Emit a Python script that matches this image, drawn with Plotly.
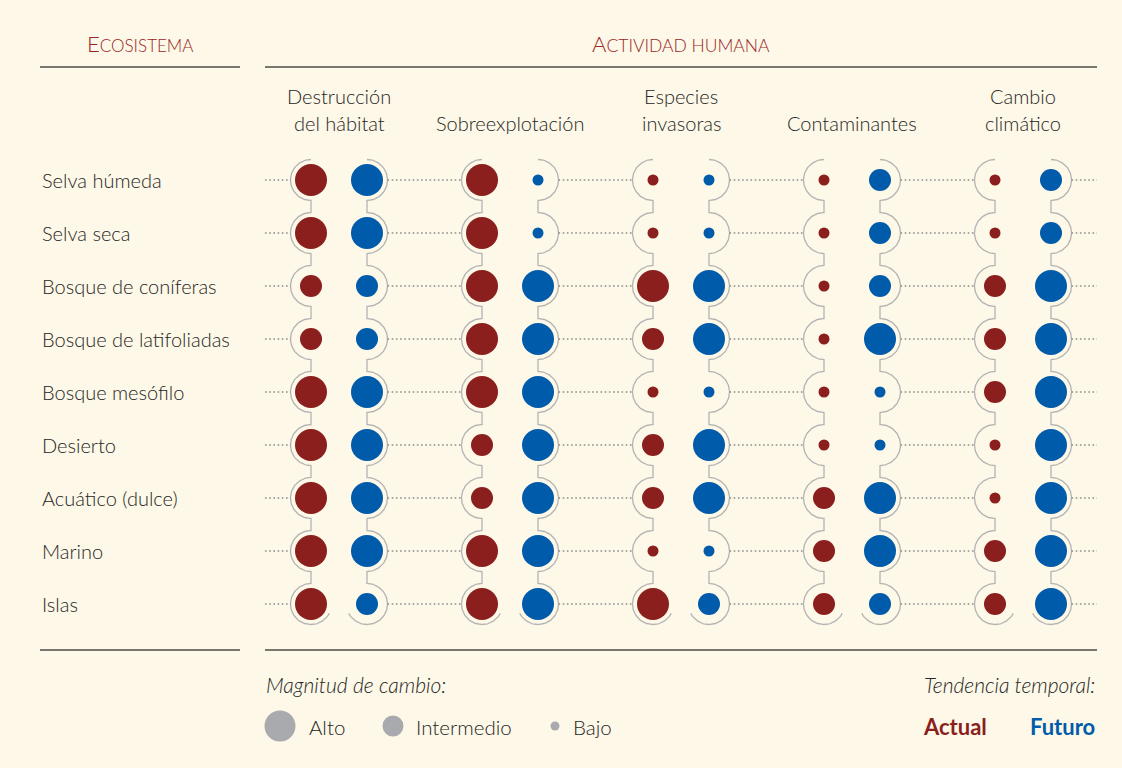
import math
import plotly.graph_objects as go

# ---------------- data ----------------
ECOSYSTEMS = ["Selva húmeda", "Selva seca", "Bosque de coníferas", "Bosque de latifoliadas",
              "Bosque mesófilo", "Desierto", "Acuático (dulce)", "Marino", "Islas"]
ACTIVITIES = ["Destrucción\ndel hábitat", "Sobreexplotación", "Especies\ninvasoras",
              "Contaminantes", "Cambio\nclimático"]
# magnitude: 3 = Alto, 2 = Intermedio, 1 = Bajo ; one row per ecosystem, one value per activity
ACTUAL = [
    [3, 3, 1, 1, 1],
    [3, 3, 1, 1, 1],
    [2, 3, 3, 1, 2],
    [2, 3, 2, 1, 2],
    [3, 3, 1, 1, 2],
    [3, 2, 2, 1, 1],
    [3, 2, 2, 2, 1],
    [3, 3, 1, 2, 2],
    [3, 3, 3, 2, 2],
]
FUTURO = [
    [3, 1, 1, 2, 2],
    [3, 1, 1, 2, 2],
    [2, 3, 3, 2, 3],
    [2, 3, 3, 3, 3],
    [3, 3, 1, 1, 3],
    [3, 3, 3, 1, 3],
    [3, 3, 3, 3, 3],
    [3, 3, 1, 3, 3],
    [2, 3, 2, 2, 3],
]
MAG_LABELS = ["Alto", "Intermedio", "Bajo"]
MAG_LEVELS = [3, 2, 1]

# ---------------- style ----------------
W, H = 1122, 768
BG = "#FDF8E7"
RED = "#8A1F1D"
BLUE = "#005BAA"
HEAD_RED = "#9A2526"
TXT = "#262626"
ARC = "#B3B3B3"
DOT = "#8C8C8C"
GREY = "#A9AAAD"
FONT = "Lato"
FW = 300
SIZE_PX = {3: 32, 2: 22, 1: 11}
LEG_SIZE_PX = {3: 31, 2: 21, 1: 9}

GROUP_PX0, GROUP_STEP = 339, 171   # pixel layout of the axes
ROW_PX0, ROW_STEP = 180, 53
PAIR_OFF = 28 / GROUP_STEP          # data units
R_PX = 20.5
RX, RY = R_PX / GROUP_STEP, R_PX / ROW_STEP
LINE_L, LINE_R = 265, 1097


def xd(px):
    return (px - GROUP_PX0) / GROUP_STEP


def py(p):
    return 1 - p / H


def pxr(p):
    return p / W


def font(size, color=TXT, weight=FW):
    return dict(size=size, color=color, family=FONT, weight=weight)


fig = go.Figure()
nrow, ncol = len(ECOSYSTEMS), len(ACTIVITIES)

# connector arcs (left of the "Actual" bubbles, right of the "Futuro" bubbles)
for i in range(ncol):
    for s in (-1, 1):
        cx = i + s * PAIR_OFF
        xs, ys = [], []
        for j in range(nrow):
            end = 335 if j == nrow - 1 else 270
            for t in range(90, end + 1, 3):
                th = math.radians(t)
                xs.append(cx + (RX * math.cos(th) if s == -1 else -RX * math.cos(th)))
                ys.append(j - RY * math.sin(th))
        fig.add_trace(go.Scatter(x=xs, y=ys, mode="lines", line=dict(color=ARC, width=1.3),
                                 hoverinfo="skip"))

# dotted row lines
dx, dy = [], []
for j in range(nrow):
    left = xd(LINE_L)
    for i in range(ncol):
        dx += [left, i - PAIR_OFF - RX, None]
        dy += [j, j, None]
        left = i + PAIR_OFF + RX
    dx += [left, xd(LINE_R), None]
    dy += [j, j, None]
fig.add_trace(go.Scatter(x=dx, y=dy, mode="lines",
                         line=dict(color=DOT, width=1.6, dash="1.6px,2.6px"), hoverinfo="skip"))

# bubbles
for vals, off, col, name in ((ACTUAL, -PAIR_OFF, RED, "Actual"), (FUTURO, PAIR_OFF, BLUE, "Futuro")):
    xs, ys, ss = [], [], []
    for j in range(nrow):
        for i in range(ncol):
            xs.append(i + off)
            ys.append(j)
            ss.append(SIZE_PX[vals[j][i]])
    fig.add_trace(go.Scatter(x=xs, y=ys, mode="markers", name=name,
                             marker=dict(color=col, size=ss, opacity=1, line=dict(width=0))))

ann = []
# row labels
for j, e in enumerate(ECOSYSTEMS):
    ann.append(dict(x=pxr(40), xref="paper", y=j, yref="y", text=e, showarrow=False,
                    xanchor="left", yanchor="middle", font=font(20)))
# column headers
for i, a in enumerate(ACTIVITIES):
    lines = a.split("\n")
    for k, ln in enumerate(reversed(lines)):
        ann.append(dict(x=i, xref="x", y=py(123.5 - 28 * k), yref="paper", text=ln, showarrow=False,
                        xanchor="center", yanchor="middle", font=font(20)))

ann.append(dict(x=pxr(140), xref="paper", y=py(43), yref="paper",
                text="E<span style='font-size:17px'>COSISTEMA</span>",
                showarrow=False, xanchor="center", yanchor="middle", font=font(22, HEAD_RED)))
ann.append(dict(x=pxr(681), xref="paper", y=py(43), yref="paper",
                text="A<span style='font-size:17.5px'>CTIVIDAD HUMANA</span>",
                showarrow=False, xanchor="center", yanchor="middle", font=font(22, HEAD_RED)))

# legend texts
ann.append(dict(x=pxr(264), xref="paper", y=py(684.5), yref="paper", text="<i>Magnitud de cambio:</i>",
                showarrow=False, xanchor="left", yanchor="middle", font=font(21)))
ann.append(dict(x=pxr(1097), xref="paper", y=py(684.5), yref="paper", text="<i>Tendencia temporal:</i>",
                showarrow=False, xanchor="right", yanchor="middle", font=font(21)))
ann.append(dict(x=pxr(921), xref="paper", y=py(726.5), yref="paper", text="<b>Actual</b>",
                showarrow=False, xanchor="left", yanchor="middle", font=font(22, RED, 700)))
ann.append(dict(x=pxr(1097), xref="paper", y=py(726.5), yref="paper", text="<b>Futuro</b>",
                showarrow=False, xanchor="right", yanchor="middle", font=font(22, BLUE, 700)))

shapes = []
leg_cx = [280, 393, 555]
leg_tx = [307, 414, 571]
for lab, lev, cxp, txp in zip(MAG_LABELS, MAG_LEVELS, leg_cx, leg_tx):
    r = LEG_SIZE_PX[lev] / 2
    shapes.append(dict(type="circle", xref="paper", yref="paper", xsizemode="pixel", ysizemode="pixel",
                       xanchor=pxr(cxp), yanchor=py(726), x0=-r, x1=r, y0=-r, y1=r,
                       fillcolor=GREY, line=dict(width=0)))
    ann.append(dict(x=pxr(txp), xref="paper", y=py(726.5), yref="paper", text=lab, showarrow=False,
                    xanchor="left", yanchor="middle", font=font(20.5)))

# rules
for yy in (67, 650):
    for x0, x1 in ((40, 240), (265, 1097)):
        shapes.append(dict(type="line", xref="paper", yref="paper", x0=pxr(x0), x1=pxr(x1),
                           y0=py(yy), y1=py(yy), line=dict(color="#4D4B48", width=1.5)))

fig.update_layout(
    width=W, height=H, margin=dict(l=0, r=0, t=0, b=0), autosize=False,
    paper_bgcolor=BG, plot_bgcolor=BG, showlegend=False,
    xaxis=dict(range=[xd(0), xd(W)], visible=False, fixedrange=True),
    yaxis=dict(range=[(H - ROW_PX0) / ROW_STEP, -ROW_PX0 / ROW_STEP], visible=False, fixedrange=True),
    annotations=ann, shapes=shapes,
)
fig.write_html("out.html", config={"displayModeBar": False},
               post_script="document.body.style.margin='0';document.body.style.overflow='hidden';")
